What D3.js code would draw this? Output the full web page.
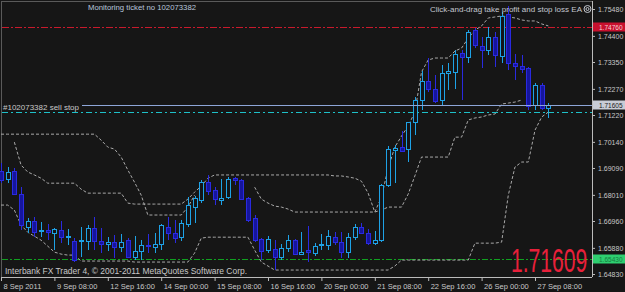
<!DOCTYPE html>
<html>
<head>
<meta charset="utf-8">
<style>
    body { margin: 0; background: #161616; }
    svg { display: block; }
    text { font-family: "Liberation Sans", Arial, sans-serif; }
</style>
</head>
<body>
<script src="https://d3js.org/d3.v7.min.js"></script>
<script>

    // H4 bars, 8 Sep 2011 00:00 .. 27 Sep 2011 16:00
    var opens = [1.6893,1.6864,1.6893,1.6804,1.6671,1.6692,1.6655,1.6659,1.6647,1.6659,
        1.6631,1.6615,1.6615,1.6615,1.6667,1.6615,1.6603,1.6611,1.6591,1.6619,
        1.6551,1.6575,1.6599,1.6591,1.6603,1.6671,1.6647,1.6631,1.6680,1.6752,
        1.6780,1.6852,1.6820,1.6780,1.6792,1.6868,1.6860,1.6788,1.6708,1.6623,
        1.6579,1.6583,1.6551,1.6587,1.6619,1.6563,1.6579,1.6567,1.6599,1.6599,
        1.6631,1.6611,1.6571,1.6631,1.6671,1.6647,1.6607,1.6619,1.6840,1.6981,
        1.6993,1.6985,1.7090,1.7182,1.7258,1.7226,1.7182,1.7287,1.7291,1.7371,
        1.7355,1.7463,1.7399,1.7383,1.7435,1.7359,1.7524,1.7327,1.7315,1.7307,
        1.7162,1.7242,1.7150];
    var highs = [1.6929,1.6913,1.6909,1.6832,1.6708,1.6712,1.6692,1.6684,1.6667,1.6696,
        1.6663,1.6627,1.6671,1.6680,1.6712,1.6667,1.6631,1.6639,1.6643,1.6627,
        1.6635,1.6619,1.6643,1.6647,1.6684,1.6712,1.6700,1.6700,1.6792,1.6796,
        1.6860,1.6881,1.6832,1.6864,1.6873,1.6873,1.6864,1.6792,1.6720,1.6627,
        1.6635,1.6619,1.6603,1.6639,1.6623,1.6651,1.6676,1.6607,1.6643,1.6659,
        1.6651,1.6651,1.6647,1.6684,1.6688,1.6663,1.6655,1.6844,1.6997,1.7001,
        1.7057,1.7094,1.7194,1.7299,1.7351,1.7283,1.7323,1.7331,1.7383,1.7383,
        1.7463,1.7471,1.7435,1.7476,1.7455,1.7536,1.7560,1.7367,1.7363,1.7315,
        1.7250,1.7250,1.7170];
    var lows = [1.6848,1.6848,1.6800,1.6659,1.6647,1.6631,1.6631,1.6619,1.6579,1.6607,
        1.6599,1.6531,1.6551,1.6579,1.6579,1.6567,1.6575,1.6547,1.6571,1.6547,
        1.6539,1.6539,1.6567,1.6567,1.6579,1.6619,1.6607,1.6615,1.6671,1.6688,
        1.6768,1.6800,1.6760,1.6760,1.6784,1.6840,1.6780,1.6692,1.6611,1.6539,
        1.6567,1.6499,1.6539,1.6571,1.6559,1.6559,1.6531,1.6555,1.6579,1.6579,
        1.6599,1.6547,1.6547,1.6619,1.6643,1.6599,1.6599,1.6611,1.6832,1.6848,
        1.6973,1.6933,1.7041,1.7142,1.7214,1.7170,1.7158,1.7222,1.7226,1.7182,
        1.7331,1.7391,1.7311,1.7363,1.7315,1.7331,1.7303,1.7262,1.7291,1.7142,
        1.7142,1.7142,1.7110];
    var closes = [1.6860,1.6889,1.6804,1.6676,1.6692,1.6651,1.6659,1.6651,1.6663,1.6631,
        1.6635,1.6539,1.6619,1.6667,1.6615,1.6603,1.6611,1.6591,1.6611,1.6551,
        1.6575,1.6599,1.6595,1.6603,1.6676,1.6647,1.6627,1.6684,1.6760,1.6788,
        1.6852,1.6816,1.6784,1.6788,1.6864,1.6860,1.6784,1.6700,1.6619,1.6575,
        1.6623,1.6551,1.6587,1.6619,1.6563,1.6571,1.6571,1.6595,1.6603,1.6635,
        1.6611,1.6571,1.6631,1.6671,1.6647,1.6607,1.6619,1.6840,1.6985,1.6989,
        1.6977,1.7090,1.7182,1.7258,1.7226,1.7178,1.7287,1.7295,1.7367,1.7355,
        1.7455,1.7403,1.7383,1.7435,1.7363,1.7516,1.7327,1.7315,1.7303,1.7158,
        1.7242,1.7150,1.7161];

    // grey dashed indicator lines, each starts at a bar index
    var outerStopFrom = 0;
    var outerStop = [1.7045,1.7045,1.7045,1.7045,1.7045,1.7045,1.7045,1.7045,1.7045,1.7045,
        1.7045,1.7045,1.7045,1.7045,1.7045,1.7021,1.6993,1.6985,1.6953,1.6901,
        1.6852,1.6800,1.6720,1.6720,1.6720,1.6720,1.6720,1.6720,1.6752,1.6800];
    var upperStopFrom = 2;
    var upperStop = [1.7013,1.6921,1.6893,1.6881,1.6868,1.6848,1.6848,1.6848,1.6848,1.6848,
        1.6824,1.6808,1.6808,1.6808,1.6808,1.6808,1.6808,1.6768,1.6764,1.6764,
        1.6764,1.6764,1.6764,1.6764,1.6764,1.6764,1.6784,1.6812,1.6836,1.6868,
        1.6881,1.6881,1.6881,1.6881,1.6881,1.6881,1.6881,1.6881,1.6881,1.6881,
        1.6881,1.6881,1.6881,1.6881,1.6881,1.6881,1.6881,1.6881,1.6877,1.6877,
        1.6873,1.6868,1.6856,1.6808,1.6732,1.6792,1.6909,1.6993,1.7037,1.7078,
        1.7134,1.7295,1.7343,1.7351,1.7351,1.7351,1.7379,1.7391,1.7431,1.7463,
        1.7480,1.7512,1.7516,1.7520,1.7516,1.7512,1.7504,1.7500,1.7500,1.7488,
        1.7480];
    var trailStopFrom = 38;
    var trailStop = [1.6832,1.6784,1.6768,1.6756,1.6752,1.6744,1.6732,1.6732,1.6732,1.6732,
        1.6732,1.6732,1.6732,1.6732,1.6732,1.6732,1.6732,1.6732,1.6732,1.6740,
        1.6752,1.6752,1.6752,1.6804,1.6877,1.6953,1.6953,1.6953,1.6953,1.6953,
        1.7033,1.7033,1.7102,1.7110,1.7114,1.7122,1.7126,1.7166,1.7170,1.7174,
        1.7182];
    var lowerStopFrom = 0;
    var lowerStop = [1.6760,1.6760,1.6740,1.6680,1.6651,1.6635,1.6619,1.6595,1.6571,1.6563,
        1.6559,1.6559,1.6535,1.6535,1.6535,1.6535,1.6535,1.6535,1.6535,1.6535,
        1.6531,1.6531,1.6531,1.6531,1.6531,1.6531,1.6531,1.6531,1.6531,1.6567,
        1.6627,1.6631,1.6631,1.6631,1.6631,1.6631,1.6631,1.6631,1.6579,1.6531,
        1.6515,1.6499,1.6499,1.6499,1.6499,1.6499,1.6499,1.6499,1.6499,1.6499,
        1.6499,1.6499,1.6499,1.6499,1.6499,1.6499,1.6499,1.6499,1.6499,1.6515,
        1.6539,1.6539,1.6539,1.6539,1.6539,1.6539,1.6539,1.6539,1.6539,1.6539,
        1.6539,1.6607,1.6607,1.6607,1.6607,1.6611,1.6800,1.6913,1.6933,1.6933,
        1.7061,1.7114,1.7134];

    var priceTicks = [1.7548, 1.7440, 1.7335, 1.7227, 1.7122, 1.7014, 1.6909, 1.6801, 1.6696, 1.6588, 1.6483];
    var timeTicks = [0, 8, 16, 24, 32, 40, 48, 56, 64, 72, 80];
    var timeLabels = ["8 Sep 2011", "9 Sep 08:00", "12 Sep 16:00", "14 Sep 00:00", "15 Sep 08:00",
        "16 Sep 16:00", "20 Sep 00:00", "21 Sep 08:00", "22 Sep 16:00", "26 Sep 00:00", "27 Sep 08:00"];

    var takeProfit = 1.7476, sellStop = 1.7134, bid = 1.71605, stopLine = 1.6543;

    var width = 625, height = 292,
        plotRight = 592, plotBottom = 277;

    var x = d3.scaleLinear()
        .domain([0, 82])
        .range([1, 1 + 82 * 6.675]);

    var y = d3.scaleLinear()
        .domain([1.6483, 1.7548])
        .range([274, 9]);

    var svg = d3.select("body").append("svg")
        .attr("width", width)
        .attr("height", height);

    svg.append("rect")
        .attr("width", width).attr("height", height)
        .style("fill", "#161616");

    // frame
    svg.append("line").attr("x1", 1.5).attr("x2", 1.5).attr("y1", 1).attr("y2", plotBottom)
        .style("stroke", "#5a5a5a");
    svg.append("line").attr("x1", 1).attr("x2", plotRight).attr("y1", 1.5).attr("y2", 1.5)
        .style("stroke", "#5a5a5a");

    // order / price lines
    function hline(price, color, dash, x0) {
        svg.append("line")
            .attr("x1", x0 || 2).attr("x2", plotRight)
            .attr("y1", Math.round(y(price)) + 0.5).attr("y2", Math.round(y(price)) + 0.5)
            .style("stroke", color)
            .style("stroke-dasharray", dash);
    }
    hline(takeProfit, "#c81a2c", "7,2,2,2");
    hline(stopLine, "#d02020", "1,3");
    hline(stopLine, "#10a020", "6,2,2,2");

    // indicator lines
    function stopLineFrom(values, from) {
        var line = d3.line()
            .x(function(d, i) { return x(i + from); })
            .y(function(d) { return y(d); });
        svg.append("path")
            .attr("d", line(values))
            .style("fill", "none")
            .style("stroke", "#a9a9a9")
            .style("stroke-width", 1)
            .style("stroke-dasharray", "3,2");
    }
    stopLineFrom(outerStop, outerStopFrom);
    stopLineFrom(upperStop, upperStopFrom);
    stopLineFrom(trailStop, trailStopFrom);
    stopLineFrom(lowerStop, lowerStopFrom);

    // candles
    var bars = svg.append("g").attr("class", "bars").attr("shape-rendering", "crispEdges");
    var idx = d3.range(opens.length);

    bars.selectAll(".wick").data(idx)
        .enter().append("line")
        .attr("x1", function(i) { return Math.round(x(i)) + 0.5; })
        .attr("x2", function(i) { return Math.round(x(i)) + 0.5; })
        .attr("y1", function(i) { return y(highs[i]); })
        .attr("y2", function(i) { return y(lows[i]); })
        .style("stroke", function(i) { return closes[i] >= opens[i] ? "#1ea2e6" : "#2a2ae0"; });

    bars.selectAll(".body").data(idx)
        .enter().append("rect")
        .attr("x", function(i) { return Math.round(x(i)) - 1.5; })
        .attr("width", 4)
        .attr("y", function(i) { return y(Math.max(opens[i], closes[i])); })
        .attr("height", function(i) { return Math.max(1, Math.abs(y(opens[i]) - y(closes[i]))); })
        .style("fill", function(i) { return closes[i] >= opens[i] ? "#121418" : "#15159c"; })
        .style("stroke", function(i) { return closes[i] >= opens[i] ? "#1ea2e6" : "#2a2ae0"; });

    hline(sellStop, "#1ec0c8", "6,3,2,3");
    hline(bid, "#8ea6d8", null, 82);

    // axes
    var yAxis = svg.append("g")
        .attr("transform", "translate(" + plotRight + ",0)")
        .call(d3.axisRight(y).tickValues(priceTicks).tickFormat(d3.format(".5f")).tickSize(3).tickPadding(3));
    yAxis.select(".domain").remove();
    yAxis.selectAll("line").style("stroke", "#bbbbbb");
    yAxis.selectAll("text").style("fill", "#c8c8c8").style("font-size", "7px")
        .style("font-family", "'Liberation Sans', Arial, sans-serif");

    var xAxis = svg.append("g")
        .attr("transform", "translate(0," + plotBottom + ")")
        .call(d3.axisBottom(x).tickValues(timeTicks)
            .tickFormat(function(d, i) { return timeLabels[i]; }).tickSize(4).tickPadding(3));
    xAxis.select(".domain").remove();
    xAxis.selectAll("line").style("stroke", "#bbbbbb");
    xAxis.selectAll("text").style("fill", "#c8c8c8").style("font-size", "7.5px")
        .style("font-family", "'Liberation Sans', Arial, sans-serif")
        .attr("text-anchor", "start").attr("dx", 2);

    svg.append("line").attr("x1", plotRight + 0.5).attr("x2", plotRight + 0.5).attr("y1", 1).attr("y2", plotBottom)
        .style("stroke", "#bbbbbb");
    svg.append("line").attr("x1", 1).attr("x2", plotRight).attr("y1", plotBottom + 0.5).attr("y2", plotBottom + 0.5)
        .style("stroke", "#bbbbbb");

    // price boxes on the axis
    function priceBox(price, label, fill, color) {
        var cy = Math.round(y(price));
        svg.append("rect").attr("x", plotRight + 1).attr("y", cy - 4.5).attr("width", 33).attr("height", 9)
            .style("fill", fill);
        svg.append("text").attr("x", plotRight + 7).attr("y", cy + 2.5)
            .style("font-size", "6.5px").style("fill", color).text(label);
    }
    priceBox(takeProfit, "1.74760", "#c8102e", "#f4d0d4");
    priceBox(bid, "1.71605", "#c8ccd6", "#202020");
    priceBox(stopLine, "1.65430", "#2ecf70", "#187a40");

    // texts
    svg.append("text").attr("x", 88).attr("y", 10)
        .attr("textLength", 108).attr("lengthAdjust", "spacingAndGlyphs")
        .style("font-size", "8px").style("fill", "#b8c6dc")
        .text("Monitoring ticket no 102073382");

    svg.append("text").attr("x", 430).attr("y", 12)
        .attr("textLength", 152).attr("lengthAdjust", "spacingAndGlyphs")
        .style("font-size", "8px").style("fill", "#c4c8d0")
        .text("Click-and-drag take profit and stop loss EA");
    svg.append("circle").attr("cx", 587.5).attr("cy", 9).attr("r", 3.5)
        .style("fill", "none").style("stroke", "#c4c8d0");
    svg.append("circle").attr("cx", 587.5).attr("cy", 9).attr("r", 1.5)
        .style("fill", "none").style("stroke", "#c4c8d0");

    svg.append("text").attr("x", 3).attr("y", 110)
        .attr("textLength", 76).attr("lengthAdjust", "spacingAndGlyphs")
        .style("font-size", "8px").style("fill", "#c8c8c8")
        .text("#102073382 sell stop");

    svg.append("text").attr("x", 5).attr("y", 274)
        .attr("textLength", 242).attr("lengthAdjust", "spacingAndGlyphs")
        .style("font-size", "8.5px").style("fill", "#c8c8c8")
        .text("Interbank FX Trader 4, \u00a9 2001-2011 MetaQuotes Software Corp.");

    // big last-price readout, narrow glyphs
    svg.append("text")
        .attr("transform", "translate(511,272) scale(0.64,1)")
        .style("font-size", "33px").style("fill", "#e8203a")
        .text("1.71609");

</script>
</body>
</html>
